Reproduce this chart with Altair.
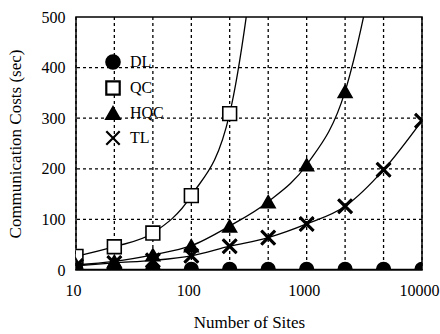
import altair as alt
import pandas as pd

sites = [10, 21.5, 46.4, 100, 215, 464, 1000, 2154, 4642, 10000]
series_names = ["DL", "QC", "HQC", "TL"]
dl = [1, 1, 1, 1, 1, 1, 1, 1, 1, 1]
qc = [27, 46, 73, 147, 309, 850]
hqc = [10, 17, 30, 48, 87, 135, 208, 353, 700]
tl = [8, 14, 19, 28, 47, 64, 91, 126, 198, 295]
x_labels = [10, 100, 1000, 10000]
y_ticks = [0, 100, 200, 300, 400, 500]
y_grid = [100, 200, 300, 400]

rows = []
for name, vals in zip(series_names, [dl, qc, hqc, tl]):
    for s, v in zip(sites, vals):
        rows.append({"sites": s, "cost": v, "series": name})
df = pd.DataFrame(rows)
xgrid_df = pd.DataFrame({"sites": sites})
ygrid_df = pd.DataFrame({"cost": y_grid})

FONT = "Liberation Serif"
X_PATH = "M-1,-1L1,1M-1,1L1,-1"
label_expr = " || ".join(f"datum.value == {v}" for v in x_labels)
label_expr = f"({label_expr}) ? format(datum.value, 'd') : ''"

xscale = alt.Scale(type="log", domain=[10, 10000], nice=False)
yscale = alt.Scale(domain=[0, 500], nice=False)

x_axis = alt.Axis(
    values=sites, labelExpr=label_expr, title="Number of Sites",
    grid=False, ticks=False, domain=False,
    labelFont=FONT, labelFontSize=16, labelColor="black", labelPadding=12,
    labelFlush=False, labelOverlap=False, labelOffset=-3,
    titleFont=FONT, titleFontSize=17, titleFontWeight="normal",
    titleColor="black", titlePadding=16,
)
y_axis = alt.Axis(
    values=y_ticks, title="Communication Costs (sec)",
    grid=False, ticks=False, domain=False,
    labelFont=FONT, labelFontSize=16, labelColor="black", labelPadding=11,
    labelFlush=False, labelOverlap=False,
    titleFont=FONT, titleFontSize=17, titleFontWeight="normal",
    titleColor="black", titlePadding=17,
)
x_enc = alt.X("sites:Q", scale=xscale, axis=x_axis)
y_enc = alt.Y("cost:Q", scale=yscale, axis=y_axis)

xgrid = alt.Chart(xgrid_df).mark_rule(color="black", strokeWidth=1.3, strokeDash=[3, 3]).encode(
    x=x_enc
)
ygrid = alt.Chart(ygrid_df).mark_rule(color="black", strokeWidth=1.3, strokeDash=[3, 3]).encode(
    y=y_enc
)

base = alt.Chart(df).encode(x=x_enc, y=y_enc)

lines = base.mark_line(clip=True, color="black", strokeWidth=1.3, interpolate="monotone").encode(
    detail="series:N"
)

legend = alt.Legend(
    title=None, orient="none", legendX=29, legendY=37,
    labelFont=FONT, labelFontSize=16, labelColor="black",
    symbolSize=180, symbolStrokeWidth=2.2,
    rowPadding=2, labelOffset=9,
)
points = base.mark_point(
    clip=True, opacity=1, size=190, strokeWidth=1.6
).encode(
    shape=alt.Shape(
        "series:N",
        scale=alt.Scale(domain=series_names,
                        range=["circle", "square", "triangle-up", X_PATH]),
        legend=legend,
    ),
    fill=alt.Fill(
        "series:N",
        scale=alt.Scale(domain=series_names, range=["black", "white", "black", "transparent"]),
        legend=legend,
    ),
    stroke=alt.Stroke(
        "series:N",
        scale=alt.Scale(domain=series_names, range=["black", "black", "black", "black"]),
        legend=legend,
    ),
)

tl_points = base.mark_point(
    clip=True, opacity=1, size=190, shape=X_PATH, stroke="black", strokeWidth=3.2,
    filled=False,
).encode().transform_filter(alt.datum.series == "TL")

chart = alt.layer(xgrid, ygrid, lines, points, tl_points).properties(
    width=346, height=253, autosize="none",
    padding={"left": 76, "top": 17, "right": 18, "bottom": 64},
    background="white",
).configure_view(
    stroke="black", strokeWidth=1.5
)

chart.save("out.html", embed_options={"renderer": "svg", "actions": False})
